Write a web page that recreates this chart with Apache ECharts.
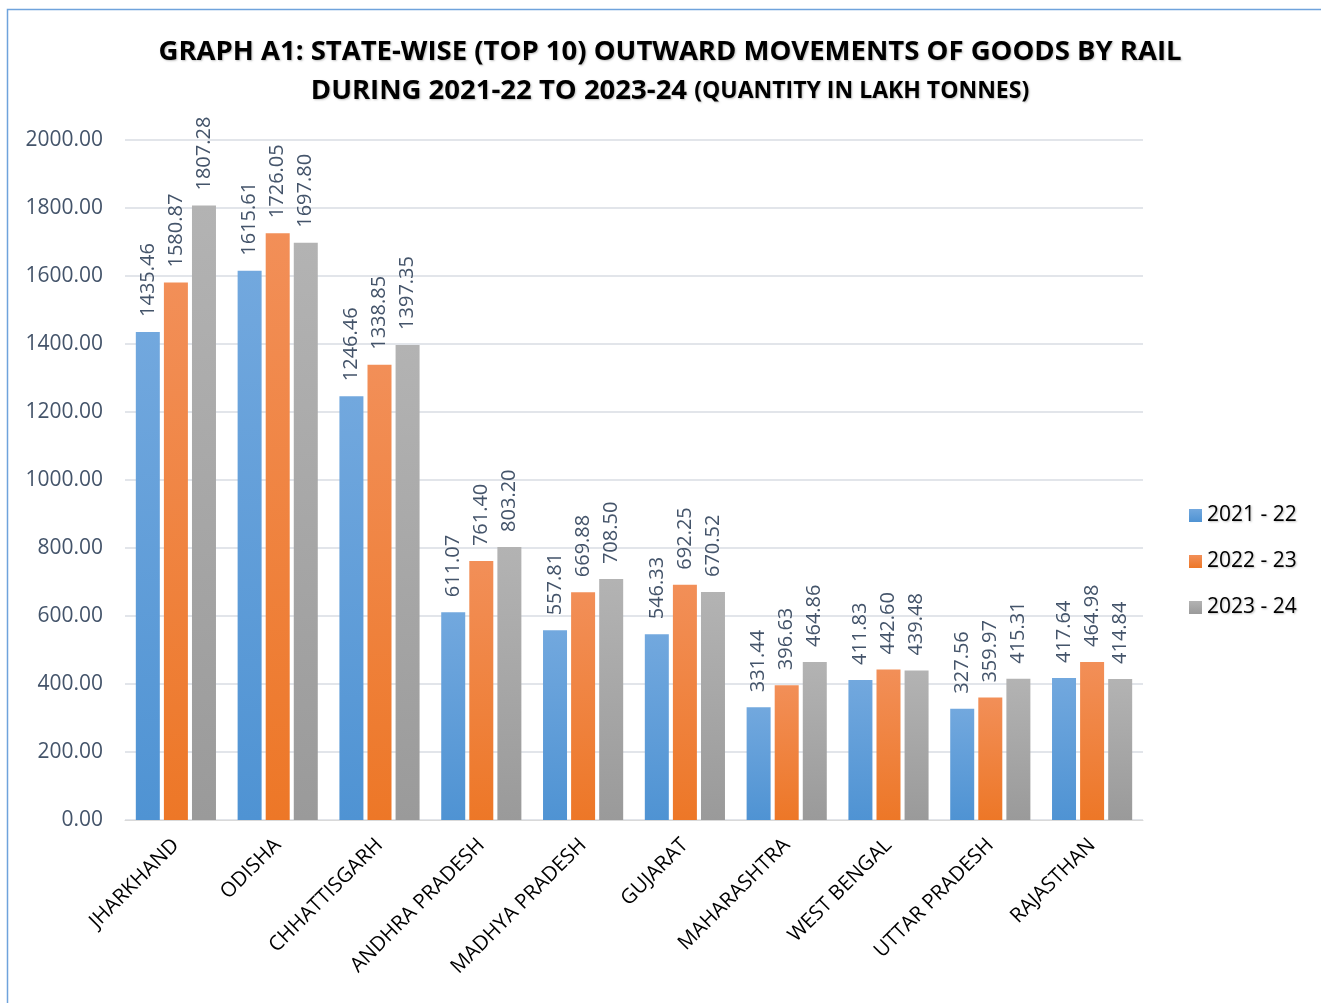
<!DOCTYPE html>
<html><head><meta charset="utf-8">
<script src="https://cdn.jsdelivr.net/npm/echarts@6/dist/echarts.min.js"></script>
<style>html,body{margin:0;padding:0;background:#fff}#c{width:1321px;height:1003px}</style>
</head><body><div id="c"></div>
<script>
var categories = ['JHARKHAND','ODISHA','CHHATTISGARH','ANDHRA PRADESH','MADHYA PRADESH','GUJARAT','MAHARASHTRA','WEST BENGAL','UTTAR PRADESH','RAJASTHAN'];
var seriesNames = ['2021 - 22','2022 - 23','2023 - 24'];
var v2122 = [1435.46,1615.61,1246.46,611.07,557.81,546.33,331.44,411.83,327.56,417.64];
var v2223 = [1580.87,1726.05,1338.85,761.40,669.88,692.25,396.63,442.60,359.97,464.98];
var v2324 = [1807.28,1697.80,1397.35,803.20,708.50,670.52,464.86,439.48,415.31,414.84];
var yTicks = {min:0,max:2000,interval:200};

var font = 'Open Sans';
function grad(top, bottom){
  return new echarts.graphic.LinearGradient(0,0,0,1,[{offset:0,color:top},{offset:1,color:bottom}]);
}
var colors = [grad('#72a8de','#4f93d3'), grad('#f28f58','#ed7727'), grad('#b3b3b3','#9a9a9a')];
var legendColors = ['#5b9bd5','#ed7d31','#a5a5a5'];
var data = [v2122, v2223, v2324];
var shadow = {textShadowColor:'rgba(0,0,0,0.25)', textShadowBlur:2, textShadowOffsetX:1, textShadowOffsetY:1};

var chart = echarts.init(document.getElementById('c'));
var series = seriesNames.map(function(n,i){
  return {
    name:n, type:'bar', data:data[i], barWidth:24, barGap:'17%',
    itemStyle:{color:colors[i]},
    label:{show:true, position:'top', rotate:90, align:'left', verticalAlign:'middle', distance:15,
      formatter:function(p){return p.value.toFixed(2);},
      color:'#44546a', fontFamily:font, fontSize:20}
  };
});
chart.setOption({
  animation:false,
  color:legendColors,
  graphic:[{type:'rect', shape:{x:7.5,y:9.5,width:1400,height:1100}, style:{fill:'none', stroke:'#6fa3dc', lineWidth:1.5}, silent:true}],
  title:{
    text:'GRAPH A1: STATE-WISE (TOP 10) OUTWARD MOVEMENTS OF GOODS BY RAIL\n{a|DURING 2021-22 TO 2023-24 }{b|(QUANTITY IN LAKH TONNES)}',
    left:665, top:28, textAlign:'center',
    textStyle:Object.assign({fontFamily:font, fontWeight:'bold', fontSize:27.5, color:'#000', lineHeight:39,
      rich:{a:Object.assign({fontFamily:font,fontWeight:'bold',fontSize:27.5,color:'#000',lineHeight:39},shadow),
            b:Object.assign({fontFamily:font,fontWeight:'bold',fontSize:23,color:'#000',lineHeight:39},shadow)}}, shadow)
  },
  legend:{
    orient:'vertical', left:1184, top:500, itemWidth:13, itemHeight:13, itemGap:25,
    icon:'rect',
    textStyle:Object.assign({fontFamily:font, fontSize:21, color:'#000'}, shadow),
    data:seriesNames
  },
  grid:{left:125, right:178, top:140, bottom:183, containLabel:false},
  xAxis:{
    type:'category', data:categories,
    axisLine:{show:true, lineStyle:{color:'#d9d9d9', width:1}},
    axisTick:{show:false},
    axisLabel:{rotate:45, interval:0, color:'#000', fontFamily:font, fontSize:20.5, margin:22}
  },
  yAxis:{
    type:'value', min:yTicks.min, max:yTicks.max, interval:yTicks.interval,
    axisLine:{show:false}, axisTick:{show:false},
    splitLine:{lineStyle:{color:'#d9dce3', width:1.5}},
    axisLabel:{formatter:function(v){return v.toFixed(2);}, color:'#44546a', fontFamily:font, fontSize:21, margin:22}
  },
  series:series
});
</script></body></html>
